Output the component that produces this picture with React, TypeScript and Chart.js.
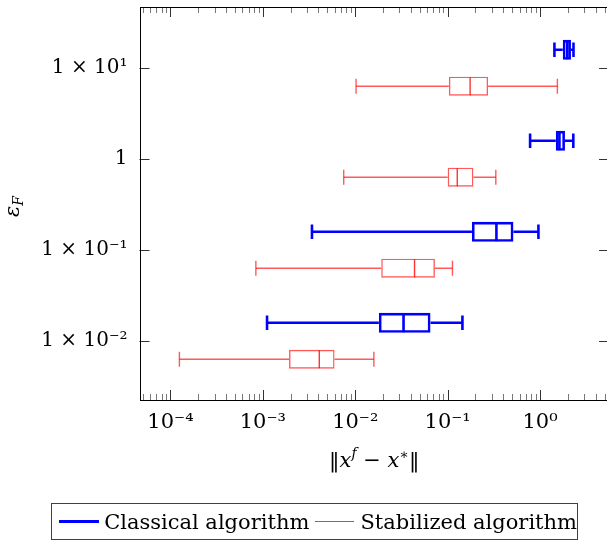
import React, { useEffect, useRef } from 'react';
import { Chart, registerables } from 'chart.js';
Chart.register(...registerables);

// ---- data ----
const epsilonF = [0.01, 0.1, 1, 10];
const yTickLabels = ['1 × 10⁻²', '1 × 10⁻¹', '1', '1 × 10¹'];
const xTickValues = [1e-4, 1e-3, 1e-2, 1e-1, 1];
const xTickLabels = ['10⁻⁴', '10⁻³', '10⁻²', '10⁻¹', '10⁰'];

const classicalMin = [0.00111, 0.0034, 0.78, 1.43];
const classicalQ1 = [0.018, 0.183, 1.48, 1.76];
const classicalMedian = [0.0333, 0.337, 1.62, 1.97];
const classicalQ3 = [0.0652, 0.515, 1.86, 2.16];
const classicalMax = [0.1445, 0.96, 2.29, 2.3];

const stabilizedMin = [0.000125, 0.00084, 0.0075, 0.0102];
const stabilizedQ1 = [0.00192, 0.0191, 0.1, 0.103];
const stabilizedMedian = [0.00408, 0.0438, 0.127, 0.175];
const stabilizedQ3 = [0.00597, 0.0728, 0.19, 0.274];
const stabilizedMax = [0.0159, 0.1127, 0.332, 1.54];

const FONT = "'DejaVu Serif', serif";
const BLUE = 'rgb(0,0,255)';
const RED = 'rgba(255,0,0,0.65)';
const RED_MED = 'rgba(255,0,0,0.8)';

type Style = { color: string; medColor: string; width: number; thick: number; cap: number; med: number; offset: number };

function boxDatasets(mins: number[], q1s: number[], meds: number[], q3s: number[], maxs: number[], s: Style) {
  const pos = (i: number) => Math.log10(epsilonF[i]) + s.offset;
  const ds: any[] = [];
  ds.push({
    type: 'bar',
    indexAxis: 'y',
    grouped: false,
    data: epsilonF.map((_, i) => ({ y: pos(i), x: [q1s[i], q3s[i]] })),
    backgroundColor: 'rgba(0,0,0,0)',
    borderColor: s.color,
    borderWidth: s.width,
    borderSkipped: false,
    barThickness: s.thick,
    inflateAmount: 0,
  });
  epsilonF.forEach((_, i) => {
    const common = {
      type: 'line',
      borderColor: s.color,
      borderWidth: s.width,
      pointStyle: 'line',
      pointRotation: 90,
      pointBorderColor: s.color,
      pointBorderWidth: s.width,
      pointBackgroundColor: s.color,
      fill: false,
    };
    ds.push({ ...common, data: [{ x: mins[i], y: pos(i) }, { x: q1s[i], y: pos(i) }], pointRadius: [s.cap, 0] });
    ds.push({ ...common, data: [{ x: q3s[i], y: pos(i) }, { x: maxs[i], y: pos(i) }], pointRadius: [0, s.cap] });
  });
  ds.push({
    type: 'line',
    showLine: false,
    data: epsilonF.map((_, i) => ({ x: meds[i], y: pos(i) })),
    pointStyle: 'line',
    pointRotation: 90,
    pointRadius: s.med,
    pointBorderColor: s.medColor,
    pointBorderWidth: s.width,
  });
  return ds;
}

const framePlugin = {
  id: 'frame',
  afterDraw(chart: any) {
    const { ctx, chartArea, scales } = chart;
    const { left, right, top, bottom } = chartArea;
    const x = scales.x;
    const y = scales.y;
    ctx.save();
    ctx.lineWidth = 1;
    ctx.strokeStyle = '#777';
    for (let e = -6; e <= 2; e++) {
      for (let m = 2; m <= 9; m++) {
        const v = m * Math.pow(10, e);
        if (v <= x.min || v >= x.max) continue;
        const px = Math.round(x.getPixelForValue(v)) + 0.5;
        ctx.beginPath();
        ctx.moveTo(px, bottom); ctx.lineTo(px, bottom - 6);
        ctx.moveTo(px, top); ctx.lineTo(px, top + 6);
        ctx.stroke();
      }
    }
    ctx.strokeStyle = '#333';
    xTickValues.forEach((v) => {
      const px = Math.round(x.getPixelForValue(v)) + 0.5;
      ctx.beginPath();
      ctx.moveTo(px, bottom); ctx.lineTo(px, bottom - 10);
      ctx.moveTo(px, top); ctx.lineTo(px, top + 10);
      ctx.stroke();
    });
    epsilonF.forEach((e) => {
      const py = Math.round(y.getPixelForValue(Math.log10(e))) + 0.5;
      ctx.beginPath();
      ctx.moveTo(left, py); ctx.lineTo(left + 10, py);
      ctx.moveTo(right, py); ctx.lineTo(right - 10, py);
      ctx.stroke();
    });
    ctx.strokeStyle = '#000';
    ctx.strokeRect(Math.round(left) + 0.5, Math.round(top) + 0.5, Math.round(right - left), Math.round(bottom - top));

    // x title: ||x^f - x^*||
    ctx.fillStyle = '#000';
    ctx.textBaseline = 'alphabetic';
    ctx.textAlign = 'left';
    const big = `21px ${FONT}`;
    const bigI = `italic 21px ${FONT}`;
    const small = `14px ${FONT}`;
    const smallI = `italic 14px ${FONT}`;
    const segs: [string, string, number][] = [
      ['‖', big, 0], ['x', bigI, 0], ['f', smallI, -9], [' − ', big, 0], ['x', bigI, 0], ['∗', small, -8], ['‖', big, 0],
    ];
    let w = 0;
    segs.forEach(([t, f]) => { ctx.font = f; w += ctx.measureText(t).width; });
    let cx = (left + right) / 2 - w / 2;
    const baseY = 467;
    segs.forEach(([t, f, dy]) => {
      ctx.font = f;
      ctx.fillText(t, cx, baseY + dy);
      cx += ctx.measureText(t).width;
    });

    // y title: eps_F
    ctx.translate(14, (top + bottom) / 2 + 3);
    ctx.rotate(-Math.PI / 2);
    ctx.font = bigI;
    const we = ctx.measureText('ε').width;
    ctx.font = smallI;
    const wf = ctx.measureText('F').width;
    const sx = -(we + wf) / 2;
    ctx.font = bigI;
    ctx.fillText('ε', sx, 5);
    ctx.font = smallI;
    ctx.fillText('F', sx + we, 9);
    ctx.restore();
  },
};

export default function App() {
  const ref = useRef<HTMLCanvasElement | null>(null);
  useEffect(() => {
    if (!ref.current) return;
    const datasets = [
      ...boxDatasets(classicalMin, classicalQ1, classicalMedian, classicalQ3, classicalMax,
        { color: BLUE, medColor: BLUE, width: 2.6, thick: 20, cap: 7.3, med: 9.5, offset: 0.2 }),
      ...boxDatasets(stabilizedMin, stabilizedQ1, stabilizedMedian, stabilizedQ3, stabilizedMax,
        { color: RED, medColor: RED_MED, width: 1.4, thick: 19, cap: 7.5, med: 9, offset: -0.2 }),
    ];
    const chart = new Chart(ref.current, {
      type: 'bar',
      data: { datasets },
      options: {
        animation: false,
        responsive: false,
        events: [],
        layout: { autoPadding: false, padding: { top: 7, right: 3, bottom: 62, left: 0 } },
        plugins: { legend: { display: false }, tooltip: { enabled: false } },
        scales: {
          x: {
            type: 'logarithmic',
            bounds: 'data',
            offset: false,
            min: Math.pow(10, -4.335),
            max: Math.pow(10, 0.746),
            grid: { display: false },
            border: { display: false },
            afterBuildTicks: (s: any) => { s.ticks = xTickValues.map((v) => ({ value: v })); },
            afterFit: (s: any) => { s.height = 80; s.paddingLeft = 0; s.paddingRight = 0; },
            ticks: {
              callback: (_v: any, i: number) => xTickLabels[i],
              font: { family: FONT, size: 21 }, color: '#000', padding: 2, maxRotation: 0, autoSkip: false,
            },
          },
          y: {
            type: 'linear',
            bounds: 'data',
            offset: false,
            min: -2.648,
            max: 1.67,
            grid: { display: false },
            border: { display: false },
            afterBuildTicks: (s: any) => { s.ticks = epsilonF.map((e) => ({ value: Math.log10(e) })); },
            afterFit: (s: any) => { s.width = 139.5; s.paddingTop = 0; s.paddingBottom = 0; },
            ticks: {
              callback: (_v: any, i: number) => yTickLabels[i],
              font: { family: FONT, size: 20 }, color: '#000', padding: 4, autoSkip: false,
            },
          },
        },
      } as any,
      plugins: [framePlugin],
    } as any);
    return () => chart.destroy();
  }, []);

  return (
    <div style={{ position: 'fixed', left: 0, top: 0, width: 607, height: 542, overflow: 'hidden', background: '#fff' }}>
      <canvas ref={ref} width={612} height={542} style={{ display: 'block', width: 612, height: 542 }} />
      <div
        style={{
          position: 'absolute', left: 51, top: 503, width: 527, height: 37, boxSizing: 'border-box',
          border: '1px solid #404040', display: 'flex', alignItems: 'center', paddingLeft: 7,
          fontFamily: FONT, fontSize: 21, whiteSpace: 'nowrap', color: '#000',
        }}
      >
        <span style={{ display: 'inline-block', width: 41, height: 0, borderTop: '3px solid rgb(0,0,255)', marginRight: 5 }} />
        <span>Classical algorithm</span>
        <span style={{ display: 'inline-block', width: 40, height: 0, borderTop: '1.4px solid rgba(255,0,0,0.8)', margin: '0 6px' }} />
        <span>Stabilized algorithm</span>
      </div>
    </div>
  );
}
